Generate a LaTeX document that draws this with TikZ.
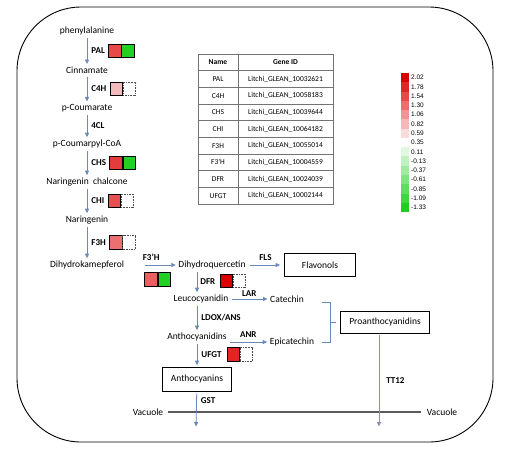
\documentclass[tikz,border=0pt]{standalone}
\usepackage{fontspec}
\setmainfont{Carlito}
\newfontfamily\legfont{Liberation Sans}
\usetikzlibrary{positioning}
\usetikzlibrary{calc}
\usetikzlibrary{arrows.meta}

\definecolor{flowblue}{RGB}{104,137,186}
\definecolor{ttgray}{RGB}{138,143,181}
\definecolor{legred}{RGB}{218,0,0}
\definecolor{leggreen}{RGB}{34,204,34}
\definecolor{hgreen}{RGB}{34,208,34}
\definecolor{palc}{RGB}{232,74,74}
\definecolor{cfourc}{RGB}{242,188,188}
\definecolor{chsc}{RGB}{226,60,60}
\definecolor{chic}{RGB}{232,80,80}
\definecolor{fthc}{RGB}{236,112,112}
\definecolor{fpc}{RGB}{234,96,96}
\definecolor{dfrc}{RGB}{222,0,0}
\definecolor{ufgtc}{RGB}{226,36,36}

\begin{document}
\begin{tikzpicture}[x=1pt, y=-1pt,
        met/.style={inner sep=1pt, font=\fontsize{9.5}{11}\selectfont},
        enz/.style={inner sep=1pt, font=\bfseries\fontsize{9}{11}\selectfont},
        product/.style={met, draw=black, line width=0.8pt, minimum height=23pt},
        flow/.style={draw=flowblue, line width=0.8pt, -{Triangle[width=4pt,length=4.5pt]}, shorten <=2pt, shorten >=1.5pt},
        heat/.style={draw=black, line width=0.6pt, minimum width=12.5pt, minimum height=13.5pt, inner sep=0pt},
        blank/.style={heat, densely dotted, draw=black!70},
        tab/.style={inner sep=1pt, font=\fontsize{7.5}{9}\selectfont},
        tabline/.style={draw=black!55, line width=0.8pt},
        legtxt/.style={inner sep=1pt, font=\legfont\fontsize{6.5}{7}\selectfont},
        brace/.style={draw=flowblue, line width=0.7pt}]
        \useasboundingbox (0,0) rectangle (513,456);

        % cell border
        \draw[line width=0.9pt, rounded corners=64pt] (17,7) rectangle (493,442);

        % upper pathway
        \node[met] (phe) at (87,31) {phenylalanine};
        \node[met] (cin) at (87,70) {Cinnamate};
        \node[met] (pcou) at (87,108) {p-Coumarate};
        \node[met] (pcoa) at (87,144) {p-Coumarpyl-CoA};
        \node[met] (chal) at (87,182) {Naringenin\ \ chalcone};
        \node[met] (nar) at (87,220) {Naringenin};
        \node[met] (dhk) at (87,265) {Dihydrokamepferol};

        \draw[flow] (phe) -- (cin) node[midway, right=3pt, enz] (pal) {PAL};
        \draw[flow] (cin) -- (pcou) node[midway, right=3pt, enz] (cfour) {C4H};
        \draw[flow] (pcou) -- (pcoa) node[midway, right=3pt, enz] (fourcl) {4CL};
        \draw[flow] (pcoa) -- (chal) node[midway, right=3pt, enz] (chs) {CHS};
        \draw[flow] (chal) -- (nar) node[midway, right=3pt, enz] (chi) {CHI};
        \draw[flow] (nar) -- (dhk) node[midway, right=3pt, enz] (fth) {F3H};

        % expression boxes
        \node[heat, fill=palc, right=2pt of pal] (pal1) {};
        \node[heat, fill=hgreen, right=0pt of pal1] (pal2) {};
        \node[heat, fill=cfourc, right=2pt of cfour] (cfour1) {};
        \node[blank, right=0pt of cfour1] (cfour2) {};
        \node[heat, fill=chsc, right=2pt of chs] (chs1) {};
        \node[heat, fill=hgreen, right=0pt of chs1] (chs2) {};
        \node[heat, fill=chic, right=2pt of chi] (chi1) {};
        \node[blank, right=0pt of chi1] (chi2) {};
        \node[heat, fill=fthc, right=2pt of fth] (fth1) {};
        \node[blank, right=0pt of fth1] (fth2) {};

        % lower pathway
        \node[met] (dhq) at (212,265) {Dihydroquercetin};
        \node[product, minimum width=71pt] (fla) at (320,265) {Flavonols};
        \node[met] (leuco) at (201,299) {Leucocyanidin};
        \node[met] (cat) at (287,299) {Catechin};
        \node[met] (anthd) at (197,337) {Anthocyanidins};
        \node[met] (epi) at (292,342) {Epicatechin};
        \node[product, minimum width=89pt, minimum height=22pt] (proan) at (385,322) {Proanthocyanidins};
        \node[product, minimum width=69pt, minimum height=24pt] (anth) at (197,379) {Anthocyanins};

        \draw[flow, shorten <=20pt] (dhk) -- (dhq) node[midway, above=3pt, enz] (fthp) {F3’H};
        \draw[flow, shorten <=3pt, shorten >=4pt] (dhq) -- (fla) node[midway, above=3pt, enz] (fls) {FLS};
        \draw[flow] (dhq.south -| anth) -- (leuco.north -| anth) node[midway, right=2pt, enz] (dfr) {DFR};
        \draw[flow] (leuco) -- (cat) node[midway, above=1pt, enz] (lar) {LAR};
        \draw[flow] (leuco.south -| anth) -- (anthd.north -| anth) node[midway, right=3pt, enz] (ldox) {LDOX/ANS};
        \draw[flow] (anthd.east |- epi) -- (epi) node[midway, above=3pt, enz] (anr) {ANR};
        \draw[flow] (anthd.south -| anth) -- (anth) node[midway, right=3pt, enz] (ufgt) {UFGT};

        \node[heat, fill=fpc] (fthp1) at (151,279.5) {};
        \node[heat, fill=hgreen, right=0pt of fthp1] (fthp2) {};
        \node[heat, fill=dfrc, right=3pt of dfr, yshift=1pt] (dfr1) {};
        \node[blank, right=0pt of dfr1] (dfr2) {};
        \node[heat, fill=ufgtc, right=4pt of ufgt] (ufgt1) {};
        \node[blank, right=0pt of ufgt1] (ufgt2) {};

        % catechin + epicatechin bracket
        \coordinate (brc) at (330,322);
        \draw[brace] (322,302) -- (330,302) -- (330,342) -- (322,342);
        \draw[brace, shorten >=4pt] (brc) -- (proan);

        % vacuole membrane
        \node[met] (vacl) at (148,412) {Vacuole};
        \node[met] (vacr) at (442,412) {Vacuole};
        \draw[draw=black!65, line width=1.1pt, shorten <=4pt, shorten >=5pt] (vacl) -- (vacr);

        \coordinate (gstend) at (196,428);
        \coordinate (ttend) at (379,428);
        \draw[flow] (anth) -- (gstend) node[pos=0.25, right=3pt, enz] (gst) {GST};
        \draw[flow, draw=ttgray] (proan.south -| ttend) -- (ttend) node[midway, right=6pt, enz] (tt) {TT12};

        % gene table
        \draw[tabline] (198,54) rectangle (333,204);
        \draw[tabline] (238,54) -- (238,204);
        \node[tab, font=\bfseries\fontsize{7.5}{9}\selectfont] (hname) at (218,62.3) {Name};
        \node[tab, font=\bfseries\fontsize{7.5}{9}\selectfont] (hid) at (285.5,62.3) {Gene ID};
        \foreach \nm/\gid [count=\r] in {PAL/10032621, C4H/10058183, CHS/10039644, CHI/10064182,
                F3H/10055014, F3'H/10004559, DFR/10024039, UFGT/10002144} {
            \draw[tabline] (198,{54+16.67*\r}) -- (333,{54+16.67*\r});
            \node[tab] (name\r) at (218,{62.3+16.67*\r}) {\nm};
            \node[tab] (gid\r) at (285.5,{62.3+16.67*\r}) {Litchi\_GLEAN\_\gid};
        }

        % colour key
        \foreach \v [count=\i from 0] in {2.02,1.78,1.54,1.30,1.06,0.82,0.59,0.35,0.11,-0.13,-0.37,-0.61,-0.85,-1.09,-1.33} {
            \ifnum\i<7
                \pgfmathtruncatemacro\pct{100*(7-\i)/7}
                \colorlet{keycell}{legred!\pct!white}
            \else
                \pgfmathtruncatemacro\pct{100*(\i-7)/7}
                \colorlet{keycell}{leggreen!\pct!white}
            \fi
            \fill[keycell] (401,{73+9.27*\i}) rectangle (409,{73+9.27*(\i+1)});
            \node[legtxt, anchor=west] (key\i) at (410,{77.6+9.27*\i}) {\v};
        }
    \end{tikzpicture}
\end{document}
